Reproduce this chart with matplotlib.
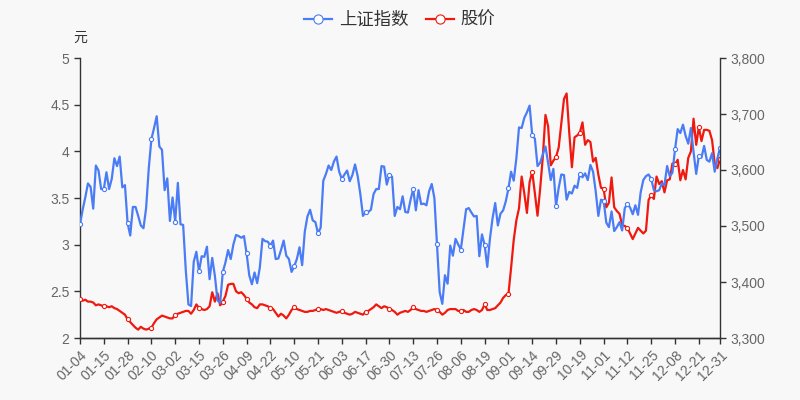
import matplotlib
matplotlib.use("Agg")
import matplotlib.pyplot as plt
from matplotlib.ticker import FuncFormatter

plt.rcParams["font.family"] = ["Liberation Sans", "Noto Sans CJK SC"]

# Trading-day labels shown on the x axis (every 9th session + last)
tick_labels = ["01-04", "01-15", "01-28", "02-10", "03-02", "03-15", "03-26",
               "04-09", "04-22", "05-10", "05-21", "06-03", "06-17", "06-30",
               "07-13", "07-26", "08-06", "08-19", "09-01", "09-14", "09-29",
               "10-19", "11-01", "11-12", "11-25", "12-08", "12-21", "12-31"]

# 上证指数 close, one value per trading day
index_close = [
    3503, 3529, 3551, 3576, 3570, 3531, 3608, 3599, 3566,
    3566, 3596, 3566, 3584, 3621, 3607, 3624, 3569, 3573,
    3505, 3483, 3534, 3534, 3518, 3501, 3496, 3532, 3603,
    3655, 3675, 3696, 3642, 3636, 3564, 3585, 3509, 3551,
    3508, 3577, 3503, 3502, 3421, 3360, 3357, 3436, 3454,
    3419, 3446, 3445, 3463, 3405, 3443, 3411, 3367, 3363,
    3418, 3435, 3457, 3441, 3467, 3484, 3482, 3479, 3482,
    3451, 3412, 3396, 3417, 3398, 3426, 3477, 3473, 3472,
    3465, 3474, 3441, 3442, 3457, 3474, 3447, 3441, 3418,
    3428, 3441, 3462, 3430, 3490, 3517, 3529, 3510, 3507,
    3487, 3497, 3581, 3593, 3608, 3600, 3615, 3624, 3597,
    3584, 3592, 3599, 3580, 3591, 3610, 3589, 3557, 3518,
    3525, 3525, 3529, 3557, 3566, 3566, 3607, 3606, 3574,
    3591, 3588, 3518, 3534, 3530, 3553, 3525, 3524, 3547,
    3566, 3528, 3564, 3539, 3540, 3537, 3562, 3575, 3550,
    3467, 3382, 3361, 3412, 3397, 3465, 3447, 3477, 3467,
    3458, 3494, 3530, 3532, 3524, 3517, 3518, 3446, 3485,
    3466, 3427, 3477, 3514, 3541, 3501, 3522, 3528, 3544,
    3567, 3597, 3581, 3621, 3676, 3675, 3693, 3703, 3715,
    3662, 3656, 3607, 3613, 3628, 3642, 3613, 3582, 3602,
    3536, 3568, 3592, 3591, 3547, 3561, 3558, 3572, 3568,
    3593, 3587, 3594, 3582, 3609, 3597, 3562, 3518, 3547,
    3545, 3506, 3498, 3526, 3491, 3498, 3507, 3492, 3532,
    3539, 3533, 3521, 3537, 3520, 3560, 3582, 3589, 3592,
    3584, 3564, 3562, 3564, 3576, 3573, 3607, 3589, 3595,
    3637, 3673, 3666, 3681, 3661, 3647, 3675, 3632, 3593,
    3625, 3622, 3643, 3618, 3615, 3630, 3597, 3620, 3640,
]

# 股价 (元), one value per trading day
stock_price = [
    2.42, 2.40, 2.41, 2.39, 2.39, 2.38, 2.35, 2.36, 2.35,
    2.34, 2.34, 2.33, 2.34, 2.32, 2.31, 2.29, 2.27, 2.25,
    2.20, 2.17, 2.14, 2.11, 2.09, 2.12, 2.10, 2.09, 2.10,
    2.11, 2.16, 2.20, 2.22, 2.24, 2.23, 2.22, 2.21, 2.21,
    2.25, 2.26, 2.27, 2.28, 2.29, 2.29, 2.26, 2.30, 2.36,
    2.32, 2.31, 2.30, 2.31, 2.34, 2.49, 2.39, 2.48, 2.35,
    2.39, 2.45, 2.57, 2.58, 2.58, 2.50, 2.48, 2.49, 2.46,
    2.42, 2.38, 2.36, 2.33, 2.32, 2.36, 2.36, 2.35, 2.34,
    2.32, 2.31, 2.27, 2.23, 2.26, 2.24, 2.21, 2.25, 2.30,
    2.33, 2.31, 2.30, 2.29, 2.28, 2.28, 2.29, 2.29, 2.30,
    2.31, 2.31, 2.30, 2.31, 2.30, 2.29, 2.28, 2.27, 2.28,
    2.29, 2.27, 2.26, 2.25, 2.26, 2.28, 2.27, 2.26, 2.25,
    2.28, 2.29, 2.31, 2.33, 2.36, 2.34, 2.32, 2.34, 2.33,
    2.31, 2.30, 2.28, 2.25, 2.27, 2.28, 2.29, 2.28, 2.30,
    2.33, 2.31, 2.30, 2.29, 2.29, 2.28, 2.29, 2.30, 2.31,
    2.30, 2.28, 2.25, 2.27, 2.30, 2.31, 2.31, 2.31, 2.29,
    2.29, 2.30, 2.28, 2.28, 2.30, 2.31, 2.30, 2.28, 2.30,
    2.36, 2.30, 2.30, 2.31, 2.32, 2.35, 2.38, 2.43, 2.46,
    2.47, 2.75, 3.05, 3.26, 3.39, 3.73, 3.55, 3.34, 3.67,
    3.78, 3.55, 3.31, 3.60, 3.94, 4.39, 4.27, 3.85, 3.90,
    3.94, 4.04, 4.30, 4.56, 4.62, 4.20, 3.83, 4.15, 4.17,
    4.20, 4.31, 4.07, 4.12, 4.10, 3.89, 3.93, 3.75, 3.61,
    3.60, 3.40, 3.45, 3.72, 3.40, 3.36, 3.33, 3.21, 3.20,
    3.18, 3.12, 3.06, 3.12, 3.18, 3.15, 3.12, 3.15, 3.48,
    3.53, 3.49, 3.73, 3.65, 3.68, 3.56, 3.69, 3.70, 3.87,
    3.86, 3.91, 3.69, 3.80, 3.70, 3.93, 4.00, 4.35, 4.07,
    4.26, 4.11, 4.23, 4.23, 4.22, 4.12, 3.87, 3.82, 3.92,
]

BG = "#f8f8f8"
BLUE = "#4a7cf6"
RED = "#f0190f"
AXIS = "#333333"
TEXT = "#666666"

n = len(index_close)
x = list(range(n))
tick_pos = list(range(0, n, 9)) + [n - 1]
marks = tick_pos

fig = plt.figure(figsize=(8, 4), dpi=100, facecolor=BG)
ax = fig.add_axes([0.1, 0.155, 0.8, 0.70])
ax.set_facecolor(BG)
ax2 = ax.twinx()

l2, = ax.plot(x, stock_price, color=RED, lw=1.6, marker="o", markevery=marks,
              markersize=3.0, markerfacecolor="white", markeredgewidth=0.8,
              label="股价", zorder=3)
l1, = ax2.plot(x, index_close, color=BLUE, lw=1.6, marker="o", markevery=marks,
               markersize=3.0, markerfacecolor="white", markeredgewidth=0.8,
               label="上证指数", zorder=2)

ax.set_xlim(0, n - 1)
ax.set_ylim(2, 5)
ax.set_yticks([2, 2.5, 3, 3.5, 4, 4.5, 5])
ax.yaxis.set_major_formatter(FuncFormatter(lambda v, p: f"{v:g}"))
ax2.set_ylim(3300, 3800)
ax2.set_yticks(range(3300, 3801, 100))
ax2.yaxis.set_major_formatter(FuncFormatter(lambda v, p: f"{v:,.0f}"))

ax.set_xticks(tick_pos)
ax.set_xticklabels(tick_labels, rotation=45, ha="right", rotation_mode="anchor")

for a in (ax, ax2):
    a.spines["top"].set_visible(False)
    for s in ("left", "right", "bottom"):
        a.spines[s].set_color(AXIS)
        a.spines[s].set_linewidth(1)
    a.tick_params(colors=AXIS, labelcolor=TEXT, labelsize=10, length=4, width=1)
ax.spines["right"].set_visible(False)
ax2.spines["left"].set_visible(False)
ax.tick_params(axis="x", pad=3)

fig.text(0.1, 0.905, "元", ha="center", va="center", fontsize=10, color=AXIS)

fig.legend([l1, l2], ["上证指数", "股价"], loc="upper center", bbox_to_anchor=(0.5, 1.01),
           ncol=2, frameon=False, fontsize=12.5, handlelength=1.6, handletextpad=0.4,
           columnspacing=1.0, labelcolor="#333333", markerscale=2.2)

fig.savefig("out.png", dpi=100, facecolor=BG)
